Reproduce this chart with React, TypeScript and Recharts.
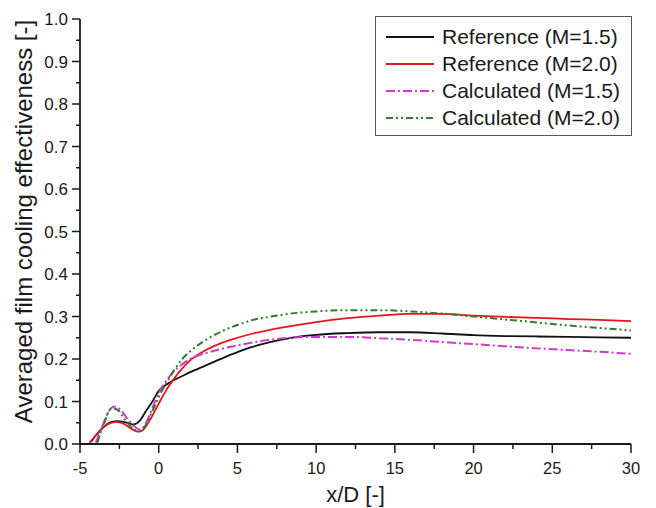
import React from 'react';
import { LineChart, Line, XAxis, YAxis, Legend } from 'recharts';

// x/D positions and averaged film cooling effectiveness values
const refM15X = [-4.3, -4.0, -3.5, -3.0, -2.6, -2.0, -1.6, -1.2, -0.8, -0.4, 0, 0.5, 1, 1.5, 2, 3, 4, 5, 6, 7, 8, 9, 10, 12, 14, 16, 18, 20, 22, 24, 26, 28, 30];
const refM15Y = [0.005, 0.02, 0.04, 0.052, 0.054, 0.05, 0.046, 0.055, 0.078, 0.1, 0.125, 0.14, 0.151, 0.16, 0.169, 0.185, 0.201, 0.216, 0.229, 0.239, 0.247, 0.253, 0.257, 0.261, 0.263, 0.263, 0.26, 0.256, 0.254, 0.253, 0.252, 0.251, 0.25];

const refM20X = [-4.4, -4.0, -3.5, -3.0, -2.7, -2.2, -1.7, -1.3, -1.0, -0.5, 0, 0.5, 1, 1.5, 2, 3, 4, 5, 6, 7, 8, 10, 12, 14, 16, 18, 20, 22, 24, 26, 28, 30];
const refM20Y = [0.003, 0.02, 0.04, 0.05, 0.052, 0.047, 0.035, 0.029, 0.033, 0.06, 0.095, 0.128, 0.155, 0.178, 0.197, 0.221, 0.238, 0.25, 0.26, 0.268, 0.275, 0.287, 0.296, 0.302, 0.306, 0.306, 0.302, 0.299, 0.297, 0.294, 0.292, 0.289];

const calcM15X = [-4.0, -3.6, -3.2, -2.8, -2.4, -2.0, -1.6, -1.2, -0.8, -0.4, 0, 0.5, 1, 1.5, 2, 3, 4, 5, 6, 7, 8, 10, 12, 14, 16, 18, 20, 22, 24, 26, 28, 30];
const calcM15Y = [0.003, 0.04, 0.075, 0.088, 0.08, 0.06, 0.043, 0.034, 0.05, 0.085, 0.12, 0.15, 0.172, 0.188, 0.2, 0.214, 0.224, 0.232, 0.239, 0.245, 0.249, 0.252, 0.252, 0.249, 0.245, 0.24, 0.235, 0.23, 0.225, 0.221, 0.217, 0.212];

const calcM20X = [-3.9, -3.5, -3.0, -2.6, -2.2, -1.8, -1.3, -1.0, -0.5, 0, 0.5, 1, 1.5, 2, 3, 4, 5, 6, 7, 8, 10, 12, 14, 16, 18, 20, 22, 24, 26, 28, 30];
const calcM20Y = [0.003, 0.045, 0.084, 0.08, 0.06, 0.042, 0.03, 0.035, 0.07, 0.11, 0.145, 0.175, 0.2, 0.218, 0.245, 0.265, 0.28, 0.292, 0.299, 0.305, 0.312, 0.315, 0.315, 0.312, 0.307, 0.3, 0.293, 0.286, 0.279, 0.273, 0.267];

const seriesNames = ['Reference (M=1.5)', 'Reference (M=2.0)', 'Calculated (M=1.5)', 'Calculated (M=2.0)'];

const xMajorTicks = [-5, 0, 5, 10, 15, 20, 25, 30];
const xMinorTicks = [-2.5, 2.5, 7.5, 12.5, 17.5, 22.5, 27.5];
const yMajorTicks = [0, 0.1, 0.2, 0.3, 0.4, 0.5, 0.6, 0.7, 0.8, 0.9, 1.0];
const yMinorTicks = [0.05, 0.15, 0.25, 0.35, 0.45, 0.55, 0.65, 0.75, 0.85, 0.95];

const xLabel = 'x/D [-]';
const yLabel = 'Averaged film cooling effectiveness [-]';

const toRows = (xs: number[], ys: number[]) => xs.map((x, i) => ({ x, y: ys[i] }));

const styles = [
  { color: '#111111', dash: undefined as string | undefined, width: 1.8 },
  { color: '#e3161b', dash: undefined as string | undefined, width: 1.8 },
  { color: '#cc3ccc', dash: '9 3 2 3', width: 2 },
  { color: '#2e7d2e', dash: '7 3 2 3 2 3', width: 2 },
];

const series = [
  { name: seriesNames[0], data: toRows(refM15X, refM15Y), ...styles[0] },
  { name: seriesNames[1], data: toRows(refM20X, refM20Y), ...styles[1] },
  { name: seriesNames[2], data: toRows(calcM15X, calcM15Y), ...styles[2] },
  { name: seriesNames[3], data: toRows(calcM20X, calcM20Y), ...styles[3] },
];

const FONT = '"Liberation Sans", Arial, Helvetica, sans-serif';
const INK = '#1a1a1a';

const isMajorX = (v: number) => xMajorTicks.some((t) => Math.abs(t - v) < 1e-6);
const isMajorY = (v: number) => yMajorTicks.some((t) => Math.abs(t - v) < 1e-6);

const XTick = (props: any) => {
  const { x, y, payload } = props;
  const v = payload.value as number;
  const major = isMajorX(v);
  return (
    <g>
      <line x1={x} x2={x} y1={y} y2={y + (major ? 9 : 5)} stroke={INK} strokeWidth={1.5} />
      {major && (
        <text x={x} y={y + 30} textAnchor="middle" fontSize={16.5} fontFamily={FONT} fill={INK}>
          {v}
        </text>
      )}
    </g>
  );
};

const YTick = (props: any) => {
  const { x, y, payload } = props;
  const v = payload.value as number;
  const major = isMajorY(v);
  return (
    <g>
      <line x1={x - (major ? 8 : 4)} x2={x} y1={y} y2={y} stroke={INK} strokeWidth={1.5} />
      {major && (
        <text x={x - 12} y={y + 6} textAnchor="end" fontSize={17} fontFamily={FONT} fill={INK}>
          {v.toFixed(1)}
        </text>
      )}
    </g>
  );
};

const LegendBox = () => (
  <div
    style={{
      border: '1px solid #555',
      background: '#fff',
      width: 257,
      padding: '6px 0 4px 0',
      boxSizing: 'border-box',
      fontFamily: FONT,
    }}
  >
    {series.map((s) => (
      <div key={s.name} style={{ display: 'flex', alignItems: 'center', height: 27 }}>
        <svg width={66} height={10} style={{ flex: 'none' }}>
          <line x1={10} x2={58} y1={5} y2={5} stroke={s.color} strokeWidth={s.width} strokeDasharray={s.dash} />
        </svg>
        <span style={{ fontSize: 21, color: INK, whiteSpace: 'nowrap' }}>{s.name}</span>
      </div>
    ))}
  </div>
);

export default function App() {
  return (
    <div style={{ position: 'absolute', left: 0, top: 0, background: '#fff' }}>
      <LineChart width={656} height={508} margin={{ top: 19, right: 25, bottom: 0, left: 0 }}>
        <XAxis
          type="number"
          dataKey="x"
          domain={[-5, 30]}
          ticks={[...xMajorTicks, ...xMinorTicks].sort((a, b) => a - b)}
          interval={0}
          allowDataOverflow
          height={64}
          tickSize={0}
          tickMargin={0}
          tickLine={false}
          axisLine={{ stroke: INK, strokeWidth: 1.8 }}
          tick={<XTick />}
          label={{
            content: (p: any) => {
              const vb = p.viewBox;
              return (
                <text x={vb.x + vb.width / 2} y={vb.y + 58} textAnchor="middle" fontSize={22} fontFamily={FONT} fill={INK}>
                  {xLabel}
                </text>
              );
            },
          }}
        />
        <YAxis
          type="number"
          dataKey="y"
          domain={[0, 1]}
          ticks={[...yMajorTicks, ...yMinorTicks].sort((a, b) => a - b)}
          interval={0}
          allowDataOverflow
          width={80}
          tickSize={0}
          tickMargin={0}
          tickLine={false}
          axisLine={{ stroke: INK, strokeWidth: 1.8 }}
          tick={<YTick />}
          label={{
            content: (p: any) => {
              const vb = p.viewBox;
              const cx = 32;
              const cy = vb.y + vb.height / 2 - 10;
              return (
                <text x={cx} y={cy} transform={`rotate(-90 ${cx} ${cy})`} textAnchor="middle" fontSize={24} fontFamily={FONT} fill={INK}>
                  {yLabel}
                </text>
              );
            },
          }}
        />
        <Legend
          layout="vertical"
          align="center"
          verticalAlign="middle"
          content={() => <LegendBox />}
          wrapperStyle={{ left: 375, top: 16, width: 257, height: 116 }}
        />
        {series.map((s) => (
          <Line
            key={s.name}
            name={s.name}
            data={s.data}
            dataKey="y"
            type="monotone"
            stroke={s.color}
            strokeWidth={s.width}
            strokeDasharray={s.dash}
            dot={false}
            activeDot={false}
            isAnimationActive={false}
          />
        ))}
      </LineChart>
    </div>
  );
}
